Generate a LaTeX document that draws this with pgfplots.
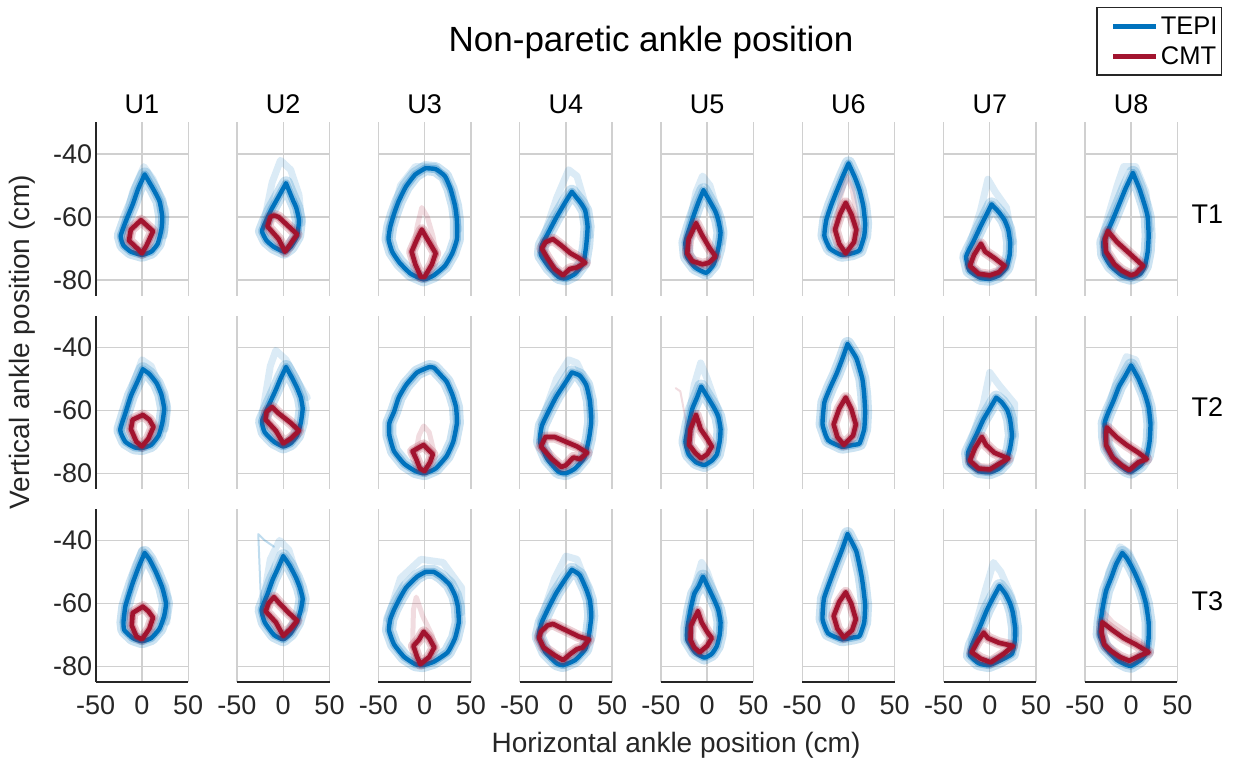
\documentclass[border=0pt]{standalone}
\usepackage{pgfplots}
\pgfplotsset{compat=1.18}
\usepackage{fontspec}
\setmainfont{Liberation Sans}
\definecolor{tepi}{RGB}{0,114,189}
\definecolor{cmt}{RGB}{162,20,47}
\definecolor{axgray}{RGB}{38,38,38}
\definecolor{gridc}{RGB}{208,208,208}

\pgfplotsset{
  panel/.style={scale only axis, width=92.5pt, height=173.3pt, anchor=south west,
    xmin=-50, xmax=50, ymin=-85, ymax=-30,
    xtick={-50,0,50}, ytick={-80,-60,-40},
    grid=major, grid style={color=gridc, line width=1.4pt},
    axis line style={draw=none}, major tick length=0pt,
    xticklabels={}, yticklabels={},
    ticklabel style={font=\fontsize{27}{27}\selectfont, text=axgray},
    xticklabel style={yshift=-10pt},
  },
  leftcol/.style={yticklabels={-80,-60,-40},
    after end axis/.append code={\draw[axgray, line width=2pt] (rel axis cs:0,0) -- (rel axis cs:0,1);}},
  bottomrow/.style={xticklabels={-50,0,50},
    after end axis/.append code={\draw[axgray, line width=2pt] (rel axis cs:0,0) -- (rel axis cs:1,0);}},
  bsA/.style={forget plot, tepi, line width=14pt, opacity=0.2, line join=round, line cap=round},
  bsB/.style={forget plot, tepi, line width=8pt, opacity=0.3, line join=round, line cap=round},
  bsX/.style={forget plot, tepi, line width=7pt, opacity=0.14, line join=round, line cap=round},
  bm/.style={forget plot, tepi, line width=4.4pt, line join=round, line cap=round, smooth, tension=0.3},
  rsA/.style={forget plot, cmt, line width=11pt, opacity=0.2, line join=round, line cap=round},
  rsB/.style={forget plot, cmt, line width=7pt, opacity=0.3, line join=round, line cap=round},
  rsX/.style={forget plot, cmt, line width=5pt, opacity=0.15, line join=round, line cap=round},
  rm/.style={forget plot, cmt, line width=4.6pt, line join=round, line cap=round},
}

% #1 col, #2 row, #3 options, #4 TEPI mean loop, #5 CMT mean loop, #6 extra spread
\newcommand{\panel}[6]{%
  \pgfmathsetmacro{\px}{95.7+141.3*#1}%
  \pgfmathsetmacro{\py}{467.2-193.2*#2}%
  \begin{axis}[panel, at={(\px pt,\py pt)}, #3]
    \addplot[bsA] coordinates {#4};
    \addplot[bsB] coordinates {#4};
    #6
    \addplot[bm] coordinates {#4};
    \addplot[rsA] coordinates {#5};
    \addplot[rsB] coordinates {#5};
    \addplot[rm] coordinates {#5};
  \end{axis}}

\begin{document}
\begin{tikzpicture}[x=1pt, y=1pt]
\path[use as bounding box] (0,0) rectangle (1239,763);

% ---------------- Row T1 ----------------
\panel{0}{0}{leftcol}
{(3,-46.5) (-4,-51) (-10,-56) (-17,-61) (-23,-66) (-20,-69) (-12,-71) (0,-72) (10,-71) (17,-68.5) (21,-64) (22,-60) (19,-55) (12,-51) (3,-46.5)}
{(-1,-61) (12,-64.5) (5,-69) (0,-71.5) (-5,-70) (-14,-67.5) (-12,-64) (-1,-61)}
{\addplot[bsX] coordinates {(-22,-66) (-10,-52) (2,-44) (12,-48) (26,-58) (24,-66)};}
\panel{1}{0}{}
{(3,-49.3) (-5,-53.5) (-13,-57.7) (-19,-61.5) (-23,-64.5) (-18,-67.5) (-10,-69.5) (1,-71) (8,-69.5) (15,-66) (17,-61) (14,-57) (11,-55) (3,-49.3)}
{(-10,-59.5) (-5,-60) (15,-65.5) (9,-68) (2,-71) (-5,-67) (-17,-63) (-14,-60) (-10,-59.5)}
{\addplot[bsX] coordinates {(-21,-62) (-12,-49) (-3,-42) (8,-45) (17,-53) (20,-62)};}
\panel{2}{0}{}
{(1,-44.5) (-10,-46.5) (-20,-50.3) (-28,-55) (-33,-59) (-37,-63) (-39,-67) (-35,-71) (-27,-74.5) (-15,-78) (-1,-79.8) (10,-78.5) (22,-75.5) (30,-71.5) (35,-67) (35,-61) (33,-56.5) (28,-51) (22,-47) (12,-44.8) (1,-44.5)}
{(-3,-64) (5,-68) (12,-71.5) (8,-75) (0,-79) (-4,-79) (-10,-75) (-14,-71) (-8,-67) (-3,-64)}
{\addplot[bsX] coordinates {(-39,-64) (-26,-50) (-10,-44) (12,-44) (30,-52) (37,-64)};
 \addplot[rsX] coordinates {(-13,-72) (-8,-63) (-3,-57) (3,-60) (9,-66) (13,-72)};}
\panel{3}{0}{}
{(6.5,-52) (0,-55) (-10,-60) (-19,-65) (-26,-69) (-27,-72) (-18,-76) (-8,-79) (0,-79.5) (10,-78) (19,-74.5) (22,-69) (23.5,-63) (21,-58) (16,-55.5) (6.5,-52)}
{(-14,-67) (-5,-69) (5,-71.5) (14,-73) (21,-74.5) (12,-76) (4,-76.5) (-3,-78.5) (-12,-76.5) (-20,-73) (-26,-70) (-22,-68) (-14,-67)}
{\addplot[bsX] coordinates {(-25,-67) (-10,-54) (3,-45) (12,-47) (22,-57) (26,-66)};}
\panel{4}{0}{}
{(-4,-51.5) (-9,-55) (-14,-59) (-19,-63.5) (-23.5,-68) (-22,-72.5) (-13,-76) (-1,-77.7) (7,-75) (12,-70) (14.5,-65) (12,-61) (8.5,-58) (-4,-51.5)}
{(-12,-62) (-5,-66) (3,-70) (9,-72.5) (2,-74.5) (-5,-75) (-16,-74) (-21.5,-71.5) (-20,-67) (-12,-62)}
{\addplot[bsX] coordinates {(-22,-66) (-12,-52) (-5,-47) (3,-50) (12,-59) (16,-68)};}
\panel{5}{0}{}
{(0,-43) (-6,-47) (-13,-52) (-19,-56.5) (-24,-61) (-26,-66) (-20,-70) (-8,-72) (4,-71.5) (12,-70.5) (17,-66) (18,-62) (16,-56.5) (12,-51.5) (7,-47.5) (0,-43)}
{(-3,-55.5) (3,-59) (8.5,-64) (6,-68) (-3,-71.5) (-10,-68.5) (-14.5,-64) (-9,-59) (-3,-55.5)}
{\addplot[rsX] coordinates {(-14,-64) (-8,-53) (-2,-47) (4,-51) (10,-62)};}
\panel{6}{0}{}
{(2,-56) (-4,-59.5) (-10,-63) (-18,-68) (-25.5,-72.5) (-22,-77) (-10,-79.3) (0,-79.6) (10,-78.5) (18,-76) (21.5,-72) (22,-68) (20,-64) (16,-61) (10,-58.5) (2,-56)}
{(-9.5,-68.5) (-5,-71) (5,-73) (16,-75.5) (10,-77.5) (0,-78.5) (-12,-78) (-21.5,-75.5) (-17,-72) (-9.5,-68.5)}
{\addplot[bsX] coordinates {(-23,-70) (-10,-58) (-2,-48) (6,-52) (18,-57) (25,-68)};}
\panel{7}{0}{}
{(2,-46) (-6,-51) (-13,-56) (-20,-61) (-26,-65) (-30,-68) (-29,-72) (-22,-75.5) (-10,-78.5) (0,-79.3) (10,-78) (15,-75.5) (18,-71) (19,-66) (18,-60) (15,-56.5) (9,-51) (2,-46)}
{(-25,-64.5) (-15,-68) (0,-72) (13,-75.5) (5,-78) (0,-78.5) (-10,-77) (-18,-75) (-27,-71) (-28,-67) (-25,-64.5)}
{\addplot[bsX] coordinates {(-31,-66) (-15,-50) (-8,-44) (5,-44) (16,-52) (21,-64)};}

% ---------------- Row T2 ----------------
\panel{0}{1}{leftcol}
{(1,-47) (-5,-51) (-12,-55.5) (-18,-61) (-23.5,-66.3) (-18,-70) (-8,-71.8) (0,-72) (10,-71) (18,-68) (22,-64) (24,-59.5) (21,-55) (16,-51.5) (8,-48.5) (1,-47)}
{(1,-61.5) (8,-63) (12.5,-65.3) (7,-69) (0,-71.5) (-6,-70) (-12,-66) (-10,-63) (1,-61.5)}
{\addplot[bsX] coordinates {(-22,-66) (-10,-52) (0,-44) (10,-46) (27,-58) (25,-66)};}
\panel{1}{1}{}
{(3,-46.3) (-3,-50) (-8,-53.5) (-15,-58) (-23,-63.5) (-20,-67) (-10,-70) (0,-71.5) (8,-70.5) (15,-68) (19,-64) (21,-59.5) (19,-56) (15,-53) (10,-50) (3,-46.3)}
{(-12,-59) (-5,-61) (8,-64) (17,-66.5) (8,-69) (0,-70.5) (-8,-66.5) (-19,-63) (-18,-60.5) (-12,-59)}
{\addplot[bsX] coordinates {(-23,-62) (-14,-46) (-8,-41) (3,-44) (18,-52) (26,-56)};}
\panel{2}{1}{}
{(5,-46.3) (-8,-48) (-20,-52) (-28,-56) (-33,-60.5) (-38,-64) (-38,-68) (-33,-73) (-22,-77) (-10,-79.3) (0,-80) (12,-78.5) (24,-74.5) (31,-70) (35,-64) (34,-59) (30,-55) (24,-51) (18,-49) (10,-46.5) (5,-46.3)}
{(-1,-71) (4,-72.5) (9,-74) (6,-76.5) (0,-79.3) (-5,-78.5) (-9,-75.5) (-13,-73) (-7,-72) (-1,-71)}
{\addplot[rsX] coordinates {(-10,-74) (-6,-68) (-1,-65) (5,-67) (10,-73)};}
\panel{3}{1}{}
{(6.5,-48) (0,-51) (-10,-55.5) (-18,-60) (-26,-65) (-28,-70) (-20,-75.5) (-8,-79.5) (0,-80) (10,-78.5) (20,-75) (25,-69) (27.5,-63.5) (26,-57) (22,-52) (15,-49) (6.5,-48)}
{(-22,-68.5) (-12,-68.5) (0,-70) (12,-71.5) (23,-73.5) (15,-75.5) (8,-75) (0,-77.5) (-5,-78) (-15,-75.5) (-27,-71.5) (-22,-68.5)}
{\addplot[bsX] coordinates {(-27,-64) (-10,-50) (3,-44) (12,-45) (25,-53) (28,-62)};}
\panel{4}{1}{}
{(-6.5,-52.5) (-11,-56) (-16,-59.5) (-20,-64.5) (-23.5,-70) (-20,-74) (-12,-76.5) (-3,-77.4) (5,-76) (10.5,-74) (13.5,-70) (14.5,-66) (12,-62) (7,-59) (-6.5,-52.5)}
{(-12,-61.5) (-7,-66) (0,-69) (5,-71.5) (0,-74) (-6.5,-75.3) (-13,-73.5) (-19.5,-71) (-18,-66) (-12,-61.5)}
{\addplot[bsX] coordinates {(-22,-66) (-14,-52) (-7,-45) (0,-50) (12,-60) (15,-68)};
 \addplot[rsX, line width=2pt] coordinates {(-20,-68) (-29,-54) (-34,-53)};}
\panel{5}{1}{}
{(-1,-39) (-7,-44) (-13,-48.5) (-20,-53) (-26,-57.5) (-28,-64.5) (-22,-69.5) (-7,-71.6) (5,-71) (12,-70.5) (17,-66) (18,-60.5) (17,-55) (15,-50) (8.5,-43.5) (-1,-39)}
{(-3,-56) (3,-59.5) (8,-64.5) (5,-68) (-5,-71) (-12,-68.5) (-16,-64.5) (-10,-59.5) (-3,-56)}
{}
\panel{6}{1}{}
{(7,-56) (0,-59.5) (-7,-63) (-14,-67.5) (-23.5,-73.5) (-22,-77) (-12,-79.3) (0,-79.7) (10,-78.5) (18,-76) (22,-72) (24,-68) (22,-63) (19,-60) (13,-57.5) (7,-56)}
{(-8.5,-68.5) (-4,-71) (5,-73.5) (20,-75.3) (10,-77) (0,-78.8) (-12,-78.5) (-21.5,-76) (-16,-72) (-8.5,-68.5)}
{\addplot[bsX] coordinates {(-23,-72) (-7,-58) (0,-48) (10,-52) (27,-58) (26,-68)};}
\panel{7}{1}{}
{(0,-45.8) (-7,-49.5) (-13,-52.5) (-19,-57) (-25,-61) (-28.5,-64) (-28,-68.5) (-26,-72) (-16,-76.5) (-5,-79) (0,-79.5) (10,-77.5) (17,-74.5) (20,-70) (21,-64.5) (19,-59) (15,-55) (8,-50) (0,-45.8)}
{(-26,-65.5) (-16,-68.5) (-5,-71) (8,-73.5) (17,-75.5) (8,-76.5) (-2,-79) (-10,-77.5) (-20,-75) (-27,-71) (-27,-67.5) (-26,-65.5)}
{\addplot[bsX] coordinates {(-29,-64) (-15,-50) (-5,-43) (5,-44) (17,-54) (22,-64)};}

% ---------------- Row T3 ----------------
\panel{0}{2}{leftcol, bottomrow}
{(3,-44) (-3,-48) (-10,-53.5) (-15,-58) (-18,-61) (-20,-66) (-19,-68.5) (-10,-71) (0,-72) (10,-71) (19,-68) (24,-64) (26,-60) (22,-55) (15,-50) (8,-46) (3,-44)}
{(1,-61) (7,-62.5) (12,-64.5) (8,-68) (0,-71.4) (-6,-70.5) (-11,-67) (-10,-63) (1,-61)}
{\addplot[bsX] coordinates {(-20,-66) (-10,-51) (0,-43) (10,-46) (28,-58) (27,-66)};}
\panel{1}{2}{bottomrow}
{(0,-45) (-6,-49) (-11.5,-52.5) (-17,-57) (-23.5,-62) (-20,-66) (-10,-70) (0,-71.4) (8,-69.5) (15,-66) (19,-62) (21,-58.5) (18,-55) (14,-52) (7,-48) (0,-45)}
{(-10,-58) (-4,-60) (6,-63) (15,-65.5) (8,-68) (0,-70.3) (-8,-66) (-19,-62.5) (-16,-60) (-10,-58)}
{\addplot[bsX] coordinates {(-22,-60) (-14,-46) (-4,-40) (6,-43) (18,-54) (21,-62)};
 \addplot[bsX, line width=2pt, opacity=0.25] coordinates {(-24,-60) (-27,-38) (-20,-40) (-10,-42)};}
\panel{2}{2}{bottomrow}
{(1,-50) (-8,-51.5) (-20,-55) (-27,-58.5) (-33,-62) (-37,-65) (-38.5,-68.5) (-33,-73) (-22,-77) (-10,-79.3) (-2,-79.6) (10,-78.5) (25,-75.5) (33,-71) (37,-66) (36,-61) (33,-57.5) (27,-54) (18,-51.5) (10,-50) (1,-50)}
{(-1,-69) (5,-71) (10.5,-74) (5,-77) (-4.5,-79.3) (-8,-77) (-12,-73.5) (-6,-71.5) (-1,-69)}
{\addplot[bsX] coordinates {(-40,-65) (-26,-52) (-4,-46) (20,-47) (40,-55) (40,-63)};
 \addplot[rsX] coordinates {(-13,-74) (-12,-62) (-9,-58) (-2,-64) (8,-70) (12,-74)};}
\panel{3}{2}{bottomrow}
{(6.5,-49.3) (0,-52) (-10,-56.5) (-18,-61) (-26,-66) (-29.5,-70.5) (-22,-75.5) (-10,-79) (-3,-79.6) (10,-78) (21,-74.5) (25,-70) (27.5,-64) (26,-59) (22,-55.5) (15,-51) (6.5,-49.3)}
{(-27,-69) (-20,-67) (-14,-66.5) (0,-68.5) (14,-70.5) (25,-71.5) (18,-74) (12,-74.5) (5,-76) (-3,-78) (-12,-76.5) (-24,-74) (-29,-71) (-27,-69)}
{\addplot[bsX] coordinates {(-28,-66) (-12,-52) (0,-45) (12,-46) (24,-55) (27,-64)};}
\panel{4}{2}{bottomrow}
{(-4.5,-51.5) (-9,-54.5) (-14,-57) (-18,-62) (-21.5,-68) (-21.5,-71.5) (-13,-75.5) (-3,-77.2) (5,-76) (10.5,-73.5) (13.5,-70) (14.5,-66) (12,-62) (7,-58.5) (-4.5,-51.5)}
{(-10,-62.5) (-6,-66) (0,-69) (5,-71) (0,-73.5) (-8,-75.5) (-14,-74) (-18,-71.5) (-17.5,-67) (-10,-62.5)}
{\addplot[bsX] coordinates {(-21,-66) (-13,-54) (-6,-47) (0,-50) (12,-60) (15,-68)};}
\panel{5}{2}{bottomrow}
{(-1,-38) (-7,-43) (-13,-47.5) (-20,-53) (-26.5,-58.5) (-28,-65) (-22,-69.5) (-7,-71.4) (5,-70.8) (12,-70.3) (17,-66) (18,-60.5) (16,-55) (14,-51) (8.5,-43.5) (-1,-38)}
{(-3,-56.5) (3,-60) (8,-65) (4,-68.5) (-5,-70.8) (-12,-68) (-16,-64) (-10,-59.5) (-3,-56.5)}
{}
\panel{6}{2}{bottomrow}
{(10.5,-54.5) (4,-58) (-3,-62) (-10,-67) (-19.5,-73.5) (-21.5,-76.5) (-12,-79) (-1,-79.6) (12,-78) (24,-76) (27,-72) (27.5,-68) (25,-63) (22,-60) (17,-57) (10.5,-54.5)}
{(-6.5,-69.3) (-2,-71) (10,-72.5) (25,-73.5) (15,-76) (1,-78.7) (-10,-77.5) (-19.5,-75.5) (-13,-72) (-6.5,-69.3)}
{\addplot[bsX] coordinates {(-20,-72) (-5,-56) (4,-47) (12,-50) (24,-58) (28,-70)};}
\panel{7}{2}{bottomrow}
{(-9.5,-44) (-16,-47.5) (-21,-51.5) (-27,-56) (-30.5,-61) (-33,-66) (-34,-70) (-28,-74) (-15,-78) (-5,-79.5) (0,-79.8) (10,-78) (17,-75.5) (19,-71) (19,-66) (16,-60) (11.5,-55.5) (5,-51) (0,-48) (-5,-45.5) (-9.5,-44)}
{(-31,-66) (-20,-68.5) (-8,-71) (5,-73) (19,-75.5) (10,-76.5) (-2,-78.2) (-12,-77) (-22,-75) (-29,-73) (-32,-69) (-31,-66)}
{\addplot[bsX] coordinates {(-34,-66) (-24,-50) (-12,-42) (-2,-44) (10,-52) (18,-62)};
 \addplot[rsX] coordinates {(-32,-62) (-20,-66) (-5,-69) (10,-72) (18,-74)};}

% ---------------- Legend ----------------
\begin{axis}[panel, at={(1084.8pt,467.2pt)}, hide axis,
  legend style={at={(1.4865,1.668)}, anchor=north east, draw=axgray, line width=1.5pt,
    font=\fontsize{25.5}{25.5}\selectfont, fill=white, inner xsep=2pt, inner ysep=7pt,
    row sep=7pt, cells={anchor=west}},
  legend image code/.code={\path (0pt,0pt); \draw[#1] (12pt,0pt) -- (55pt,0pt);}]
  \addlegendimage{tepi, line width=5pt}
  \addlegendentry{TEPI}
  \addlegendimage{cmt, line width=5pt}
  \addlegendentry{CMT}
\end{axis}

% ---------------- Texts ----------------
\node[font=\fontsize{35}{35}\selectfont] at (651,721) {Non-paretic ankle position};
\foreach \i in {1,...,8}{
  \pgfmathsetmacro{\cx}{95.7+141.3*(\i-1)+46.25}
  \node[anchor=base, font=\fontsize{27}{27}\selectfont] at (\cx,649.3) {U\i};
}
\node[anchor=base west, font=\fontsize{27}{27}\selectfont] at (1188,539.3) {T1};
\node[anchor=base west, font=\fontsize{27}{27}\selectfont] at (1188,346.1) {T2};
\node[anchor=base west, font=\fontsize{27}{27}\selectfont] at (1188,152.9) {T3};
\node[font=\fontsize{28}{28}\selectfont, text=axgray] at (676,18) {Horizontal ankle position (cm)};
\node[rotate=90, font=\fontsize{28}{28}\selectfont, text=axgray] at (22,421) {Vertical ankle position (cm)};
\end{tikzpicture}
\end{document}
